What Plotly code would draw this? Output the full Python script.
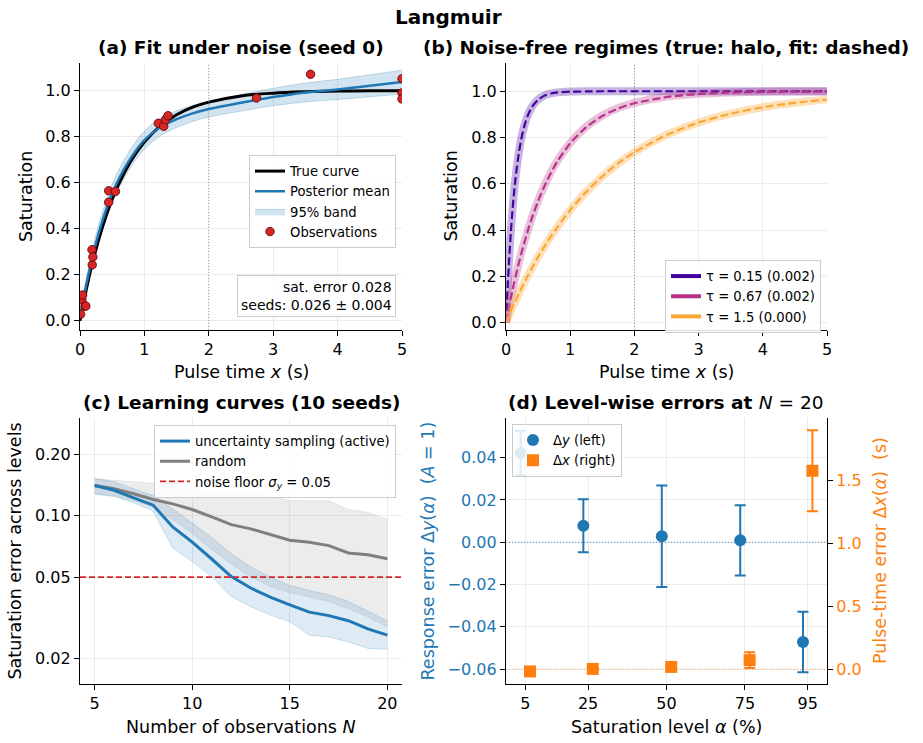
import math
import plotly.graph_objects as go

W, H = 923, 743


def fx(px):
    return px / W


def fy(py):
    return 1 - py / H


# ---------------- Panel (a) data ----------------
a_x = [0, 0.05, 0.1, 0.15, 0.2, 0.3, 0.4, 0.5, 0.6, 0.8, 1.0, 1.25, 1.5, 1.75, 2.0, 2.5, 3.0, 3.5, 4.0, 4.5, 5.0]
a_true = [0, 0.072, 0.139, 0.202, 0.259, 0.362, 0.451, 0.528, 0.593, 0.699, 0.777, 0.847, 0.895, 0.928, 0.950,
          0.977, 0.989, 0.995, 0.998, 0.999, 0.999]
a_mean = [0.015, 0.09, 0.16, 0.225, 0.285, 0.39, 0.478, 0.553, 0.615, 0.712, 0.785, 0.842, 0.876, 0.901, 0.920,
          0.947, 0.972, 0.992, 1.005, 1.021, 1.037]
a_upper = [0.035, 0.115, 0.19, 0.257, 0.32, 0.427, 0.516, 0.593, 0.655, 0.752, 0.825, 0.880, 0.912, 0.936, 0.955,
           0.983, 1.010, 1.033, 1.049, 1.069, 1.089]
a_lower = [-0.005, 0.065, 0.13, 0.193, 0.25, 0.353, 0.44, 0.513, 0.575, 0.672, 0.745, 0.804, 0.840, 0.866, 0.885,
           0.911, 0.934, 0.951, 0.961, 0.973, 0.985]
obs_x = [0.01, 0.03, 0.04, 0.08, 0.09, 0.186, 0.19, 0.20, 0.445, 0.445, 0.55, 1.216, 1.30, 1.33, 1.367,
         2.74, 3.58, 5.0, 5.0, 5.0]
obs_y = [0.029, 0.091, 0.112, 0.064, 0.064, 0.309, 0.243, 0.277, 0.565, 0.515, 0.562, 0.858, 0.845, 0.874, 0.891,
         0.968, 1.071, 1.052, 0.990, 0.964]
sat_error = "0.028"
seeds_text = "0.026 ± 0.004"

# ---------------- Panel (b) data ----------------
b_x = [0, 0.025, 0.05, 0.075, 0.1, 0.125, 0.15, 0.2, 0.25, 0.3, 0.35, 0.4, 0.5, 0.6, 0.7, 0.8, 1.0,
       1.25, 1.5, 1.75, 2.0, 2.5, 3.0, 3.5, 4.0, 4.5, 5.0]
b_true_fast = [0, 0.154, 0.284, 0.394, 0.487, 0.565, 0.632, 0.736, 0.811, 0.865, 0.903, 0.931, 0.964, 0.982,
               0.991, 0.995, 0.999, 1.000, 1.000, 1.000, 1.000, 1.000, 1.000, 1.000, 1.000, 1.000, 1.000]
b_true_mid = [0, 0.037, 0.072, 0.106, 0.139, 0.171, 0.202, 0.259, 0.313, 0.362, 0.408, 0.451, 0.528, 0.593,
              0.650, 0.699, 0.777, 0.847, 0.895, 0.928, 0.950, 0.977, 0.989, 0.995, 0.998, 0.999, 0.999]
b_true_slow = [0, 0.017, 0.033, 0.049, 0.065, 0.080, 0.095, 0.125, 0.154, 0.181, 0.208, 0.234, 0.284, 0.330,
               0.373, 0.413, 0.487, 0.565, 0.632, 0.689, 0.736, 0.811, 0.865, 0.903, 0.931, 0.950, 0.964]
b_fit_fast = [0, 0.150, 0.279, 0.389, 0.482, 0.561, 0.628, 0.733, 0.809, 0.863, 0.902, 0.930, 0.963, 0.981,
              0.990, 0.995, 0.998, 0.999, 1.000, 1.000, 1.000, 1.000, 1.000, 1.000, 1.000, 1.000, 1.000]
b_fit_mid = [0, 0.036, 0.071, 0.105, 0.138, 0.170, 0.200, 0.258, 0.311, 0.360, 0.406, 0.449, 0.526, 0.591,
             0.648, 0.697, 0.775, 0.845, 0.893, 0.926, 0.948, 0.975, 0.988, 0.994, 0.997, 0.998, 0.999]
b_fit_slow = [0, 0.017, 0.033, 0.049, 0.065, 0.080, 0.095, 0.125, 0.154, 0.181, 0.208, 0.234, 0.284, 0.330,
              0.373, 0.413, 0.487, 0.565, 0.632, 0.689, 0.736, 0.811, 0.865, 0.903, 0.931, 0.950, 0.964]
b_labels = ["τ = 0.15 (0.002)", "τ = 0.67 (0.002)", "τ = 1.5 (0.000)"]
b_colors = ["#41049d", "#b83289", "#fca636"]
b_halo = ["rgba(65,4,157,0.3)", "rgba(184,50,137,0.3)", "rgba(252,166,54,0.35)"]

# ---------------- Panel (c) data ----------------
c_n = list(range(5, 21))
c_active = [0.1404, 0.133, 0.122, 0.1124, 0.088, 0.0742, 0.0613, 0.0503, 0.0442, 0.0399, 0.0366, 0.0337,
            0.0324, 0.0306, 0.0279, 0.0260]
c_active_hi = [0.152, 0.146, 0.135, 0.125, 0.108, 0.092, 0.078, 0.065, 0.056, 0.050, 0.0455, 0.043, 0.041,
               0.038, 0.034, 0.0305]
c_active_lo = [0.127, 0.124, 0.1155, 0.105, 0.0694, 0.0596, 0.0503, 0.0402, 0.0358, 0.0326, 0.0303, 0.026,
               0.0255, 0.0241, 0.0224, 0.0222]
c_random = [0.1404, 0.1352, 0.1278, 0.1199, 0.1141, 0.1070, 0.0985, 0.0903, 0.0861, 0.0807, 0.0757, 0.0740,
            0.0713, 0.0656, 0.0643, 0.0615]
c_random_hi = [0.1514, 0.149, 0.1465, 0.1437, 0.144, 0.135, 0.129, 0.128, 0.128, 0.1245, 0.1185, 0.118, 0.118,
               0.107, 0.1038, 0.0955]
c_random_lo = [0.128, 0.125, 0.118, 0.110, 0.095, 0.082, 0.068, 0.058, 0.050, 0.045, 0.042, 0.040, 0.038,
               0.035, 0.032, 0.0285]
noise_floor = 0.05

# ---------------- Panel (d) data ----------------
d_alpha = [5, 25, 50, 75, 95]
d_dy = [0.0422, 0.0078, 0.0028, 0.0009, -0.0472]
d_dy_err = [0.0106, 0.0126, 0.024, 0.0166, 0.0143]
d_dx = [-0.018, 0.002, 0.018, 0.072, 1.58]
d_dx_err = [0.008, 0.008, 0.01, 0.062, 0.323]

BLUE = "#1f77b4"
ORANGE = "#ff7f0e"
RED = "#d62728"
FONT = "DejaVu Sans"
GRID = "#ebebeb"
LEG_FONT = 13.2

fig = go.Figure()

# ---- (a) ----
fig.add_trace(go.Scatter(x=a_x, y=a_lower, mode="lines", line=dict(color="rgba(31,119,180,0.3)", width=0.8,
                                                                     shape="spline"),
                         showlegend=False, hoverinfo="skip", xaxis="x", yaxis="y"))
fig.add_trace(go.Scatter(x=a_x, y=a_upper, mode="lines", fill="tonexty", fillcolor="rgba(31,119,180,0.2)",
                         line=dict(color="rgba(31,119,180,0.3)", width=0.8, shape="spline"),
                         name="95% band", legend="legend", legendrank=3, xaxis="x", yaxis="y"))
fig.add_trace(go.Scatter(x=a_x, y=a_true, mode="lines", line=dict(color="black", width=3, shape="spline"),
                         name="True curve", legend="legend", legendrank=1, xaxis="x", yaxis="y"))
fig.add_trace(go.Scatter(x=a_x, y=a_mean, mode="lines", line=dict(color=BLUE, width=2.5, shape="spline"),
                         name="Posterior mean", legend="legend", legendrank=2, xaxis="x", yaxis="y"))
fig.add_trace(go.Scatter(x=obs_x, y=obs_y, mode="markers",
                         marker=dict(color=RED, size=8.5, line=dict(color="#5a0000", width=0.8)),
                         name="Observations", legend="legend", legendrank=4, xaxis="x", yaxis="y"))

# ---- (b) ----
b_true = [b_true_fast, b_true_mid, b_true_slow]
b_fit = [b_fit_fast, b_fit_mid, b_fit_slow]
for i in range(3):
    fig.add_trace(go.Scatter(x=b_x, y=b_true[i], mode="lines", line=dict(color=b_halo[i], width=8, shape="spline",
                                                                          smoothing=0.6),
                             showlegend=False, hoverinfo="skip", xaxis="x2", yaxis="y2"))
    fig.add_trace(go.Scatter(x=b_x, y=b_fit[i], mode="lines",
                             line=dict(color=b_colors[i], width=2.2, dash="8px,3.5px", shape="spline",
                                       smoothing=0.6),
                             showlegend=False, xaxis="x2", yaxis="y2"))
for i in range(3):
    fig.add_trace(go.Scatter(x=[None], y=[None], mode="lines", line=dict(color=b_colors[i], width=4),
                             name=b_labels[i], legend="legend2", legendrank=i + 1, xaxis="x2", yaxis="y2"))

# ---- (c) ----
fig.add_trace(go.Scatter(x=c_n, y=c_random_lo, mode="lines", line=dict(color="rgba(128,128,128,0.15)", width=1),
                         showlegend=False, hoverinfo="skip", xaxis="x3", yaxis="y3"))
fig.add_trace(go.Scatter(x=c_n, y=c_random_hi, mode="lines", fill="tonexty", fillcolor="rgba(128,128,128,0.15)",
                         line=dict(color="rgba(128,128,128,0.15)", width=1),
                         showlegend=False, hoverinfo="skip", xaxis="x3", yaxis="y3"))
fig.add_trace(go.Scatter(x=c_n, y=c_active_lo, mode="lines", line=dict(color="rgba(31,119,180,0.2)", width=1),
                         showlegend=False, hoverinfo="skip", xaxis="x3", yaxis="y3"))
fig.add_trace(go.Scatter(x=c_n, y=c_active_hi, mode="lines", fill="tonexty", fillcolor="rgba(31,119,180,0.15)",
                         line=dict(color="rgba(31,119,180,0.2)", width=1),
                         showlegend=False, hoverinfo="skip", xaxis="x3", yaxis="y3"))
fig.add_trace(go.Scatter(x=c_n, y=c_random, mode="lines", line=dict(color="#7f7f7f", width=3),
                         name="random", legend="legend3", legendrank=2, xaxis="x3", yaxis="y3"))
fig.add_trace(go.Scatter(x=c_n, y=c_active, mode="lines", line=dict(color=BLUE, width=3),
                         name="uncertainty sampling (active)", legend="legend3", legendrank=1,
                         xaxis="x3", yaxis="y3"))
fig.add_trace(go.Scatter(x=[None], y=[None], mode="lines", line=dict(color=RED, width=1.6, dash="6px,3px"),
                         name="noise floor <i>σ</i><sub><i>y</i></sub> = 0.05", legend="legend3", legendrank=3,
                         xaxis="x3", yaxis="y3"))

# ---- (d) ----
fig.add_trace(go.Scatter(x=[a - 1.5 for a in d_alpha], y=d_dy, mode="markers",
                         marker=dict(color=BLUE, size=12, symbol="circle"),
                         error_y=dict(type="data", array=d_dy_err, color=BLUE, thickness=2, width=5.5),
                         name="Δ<i>y</i> (left)", legend="legend4", legendrank=1, xaxis="x4", yaxis="y4"))
fig.add_trace(go.Scatter(x=[a + 1.5 for a in d_alpha], y=d_dx, mode="markers",
                         marker=dict(color=ORANGE, size=12, symbol="square"),
                         error_y=dict(type="data", array=d_dx_err, color=ORANGE, thickness=2, width=5.5),
                         name="Δ<i>x</i> (right)", legend="legend4", legendrank=2, xaxis="x4", yaxis="y5"))

# ---- axes ----
def ax_style(**kw):
    base = dict(showline=True, linecolor="black", linewidth=1.3, ticks="outside", ticklen=5, tickwidth=1.3,
                tickcolor="black", showgrid=True, gridcolor=GRID, gridwidth=1, zeroline=False,
                tickfont=dict(size=16, color="black"), mirror=False, automargin=False)
    base.update(kw)
    return base


top = [fy(330), fy(63)]
bot = [fy(684), fy(418)]
left = [fx(80), fx(402)]
right = [fx(506), fx(827)]

fig.update_layout(
    xaxis=ax_style(domain=left, anchor="y", range=[0, 5], tickvals=[0, 1, 2, 3, 4, 5]),
    yaxis=ax_style(domain=top, anchor="x", range=[-0.04, 1.12], tickvals=[0, 0.2, 0.4, 0.6, 0.8, 1.0],
                   tickformat=".1f"),
    xaxis2=ax_style(domain=right, anchor="y2", range=[0, 5], tickvals=[0, 1, 2, 3, 4, 5]),
    yaxis2=ax_style(domain=top, anchor="x2", range=[-0.032, 1.122], tickvals=[0, 0.2, 0.4, 0.6, 0.8, 1.0],
                    tickformat=".1f"),
    xaxis3=ax_style(domain=left, anchor="y3", range=[4.25, 20.75], tickvals=[5, 10, 15, 20]),
    yaxis3=ax_style(domain=bot, anchor="x3", type="log", range=[math.log10(0.015), math.log10(0.3)],
                    tickvals=[0.02, 0.05, 0.1, 0.2], ticktext=["0.02", "0.05", "0.10", "0.20"]),
    xaxis4=ax_style(domain=right, anchor="y4", range=[-1.15, 101.15], tickvals=d_alpha),
    yaxis4=ax_style(domain=bot, anchor="x4", range=[-0.0671, 0.0588],
                    tickvals=[-0.06, -0.04, -0.02, 0, 0.02, 0.04], tickformat=".2f",
                    tickfont=dict(size=16, color=BLUE)),
    yaxis5=ax_style(domain=bot, anchor="x4", overlaying="y4", side="right", range=[-0.118, 2.0],
                    tickvals=[0, 0.5, 1.0, 1.5], tickformat=".1f", showgrid=False,
                    tickfont=dict(size=16, color=ORANGE)),
)

# ---- shapes ----
fig.add_shape(type="line", xref="x", yref="y domain", x0=2, x1=2, y0=0, y1=1, layer="above",
              line=dict(color="#999999", width=1, dash="1px,2px"))
fig.add_shape(type="line", xref="x2", yref="y2 domain", x0=2, x1=2, y0=0, y1=1, layer="above",
              line=dict(color="#999999", width=1, dash="1px,2px"))
fig.add_shape(type="line", xref="x3 domain", yref="y3", x0=0, x1=1, y0=noise_floor, y1=noise_floor,
              layer="above", line=dict(color=RED, width=1.6, dash="6px,3px"))
fig.add_shape(type="line", xref="x4 domain", yref="y4", x0=0, x1=1, y0=0, y1=0, layer="above",
              line=dict(color="rgba(31,119,180,0.75)", width=1.1, dash="1.2px,1.8px"))
fig.add_shape(type="line", xref="x4 domain", yref="y5", x0=0, x1=1, y0=0, y1=0, layer="above",
              line=dict(color="rgba(255,127,14,0.6)", width=1.1, dash="1.2px,1.8px"))

# ---- legends ----
leg_common = dict(bgcolor="rgba(255,255,255,0.85)", bordercolor="#cccccc", borderwidth=1, traceorder="normal",
                  font=dict(size=LEG_FONT, family=FONT, color="black"))
fig.update_layout(
    legend=dict(x=fx(396), y=fy(155), xanchor="right", yanchor="top", **leg_common),
    legend2=dict(x=fx(821), y=fy(260), xanchor="right", yanchor="top", **leg_common),
    legend3=dict(x=fx(396), y=fy(425), xanchor="right", yanchor="top", **leg_common),
    legend4=dict(x=fx(512), y=fy(424), xanchor="left", yanchor="top", **leg_common),
)

# ---- text annotations ----
ann = []


def text(px, py, t, size, color="black", angle=0, xanchor="center", yanchor="middle", **kw):
    ann.append(dict(x=fx(px), y=fy(py), xref="paper", yref="paper", text=t, showarrow=False,
                    font=dict(size=size, color=color, family=FONT), textangle=angle,
                    xanchor=xanchor, yanchor=yanchor, **kw))


text(448, 17, "<b>Langmuir</b>", 20)
text(241, 47, "<b>(a) Fit under noise (seed 0)</b>", 18.5)
text(666, 47, "<b>(b) Noise-free regimes (true: halo, fit: dashed)</b>", 18.5)
text(241, 402, "<b>(c) Learning curves (10 seeds)</b>", 18.5)
text(666, 402, "<b>(d) Level-wise errors at </b><i>N</i> = 20", 18.5)

text(241, 372, "Pulse time <i>x</i> (s)", 17.5)
text(666, 372, "Pulse time <i>x</i> (s)", 17.5)
text(26.5, 196.5, "Saturation", 17.5, angle=-90)
text(451, 196.5, "Saturation", 17.5, angle=-90)
text(241, 727, "Number of observations <i>N</i>", 17.5)
text(14.5, 551, "Saturation error across levels", 17.5, angle=-90)
text(666, 727, "Saturation level <i>α</i> (%)", 17.5)
text(427.5, 551, "Response error Δ<i>y</i>(<i>α</i>)\u00a0\u00a0(<i>A</i> = 1)", 17.5, color=BLUE, angle=-90)
text(880, 551, "Pulse-time error Δ<i>x</i>(<i>α</i>)\u00a0\u00a0(s)", 17.5, color=ORANGE, angle=-90)

text(396, 317, "sat. error " + sat_error + "<br>seeds: " + seeds_text, 14, xanchor="right", yanchor="bottom",
     align="right", bordercolor="#cccccc", borderwidth=1, borderpad=3, bgcolor="rgba(255,255,255,0.85)")

fig.update_layout(annotations=ann, width=W, height=H, margin=dict(l=0, r=0, t=0, b=0, autoexpand=False),
                  paper_bgcolor="white", plot_bgcolor="white", font=dict(family=FONT, color="black"),
                  showlegend=True)

fig.write_html("out.html")
